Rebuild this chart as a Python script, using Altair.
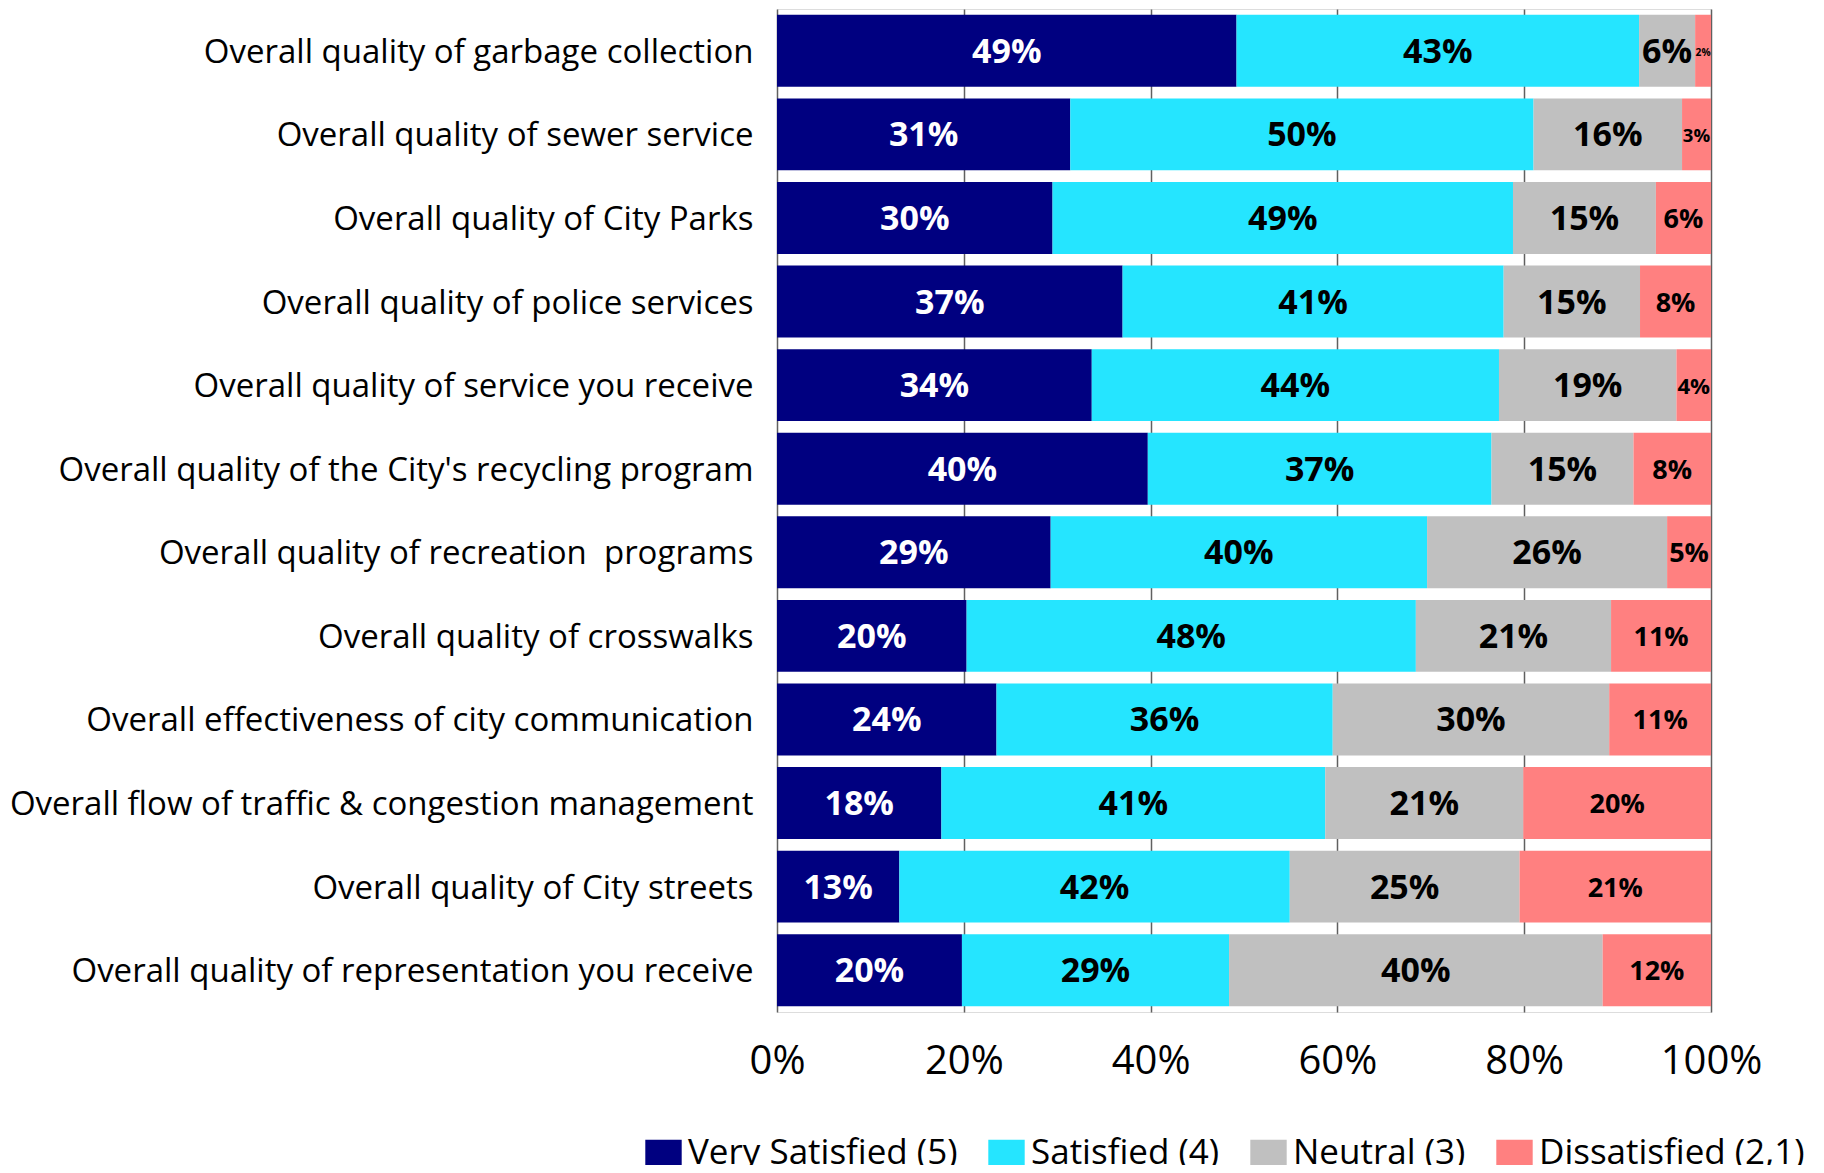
import altair as alt
import pandas as pd

categories = [
    "Overall quality of garbage collection",
    "Overall quality of sewer service",
    "Overall quality of City Parks",
    "Overall quality of police services",
    "Overall quality of service you receive",
    "Overall quality of the City's recycling program",
    "Overall quality of recreation\u00a0 programs",
    "Overall quality of crosswalks",
    "Overall effectiveness of city communication",
    "Overall flow of traffic & congestion management",
    "Overall quality of City streets",
    "Overall quality of representation you receive",
]
series = ["Very Satisfied (5)", "Satisfied (4)", "Neutral (3)", "Dissatisfied (2,1)"]
very_satisfied = [49.2, 31.4, 29.5, 37.0, 33.7, 39.7, 29.3, 20.3, 23.5, 17.6, 13.1, 19.8]
satisfied = [43.1, 49.6, 49.3, 40.8, 43.6, 36.8, 40.3, 48.1, 36.0, 41.1, 41.8, 28.6]
neutral = [6.0, 15.9, 15.3, 14.6, 19.0, 15.2, 25.7, 20.9, 29.6, 21.2, 24.6, 40.0]
dissatisfied = [1.7, 3.1, 5.9, 7.6, 3.7, 8.3, 4.7, 10.7, 10.9, 20.1, 20.5, 11.6]
colors = ["#000080", "#25E5FF", "#C0C0C0", "#FF8080"]
x_ticks = [0, 0.2, 0.4, 0.6, 0.8, 1.0]

rows = []
for si, (s, vals) in enumerate(zip(series, [very_satisfied, satisfied, neutral, dissatisfied])):
    for c, v in zip(categories, vals):
        rows.append({"category": c, "series": s, "value": v / 100.0, "order": si})
df = pd.DataFrame(rows)

FONT = "Open Sans"

base = alt.Chart(df).transform_stack(
    stack="value", groupby=["category"], as_=["x0", "x1"],
    sort=[alt.SortField("order", order="ascending")]
).transform_calculate(
    mid="(datum.x0 + datum.x1) / 2",
    label="format(datum.value, '.0%')",
    fs="datum.series == 'Dissatisfied (2,1)' ? min(27, datum.value * 600) : 34",
)

y_enc = alt.Y("category:N", sort=categories, title=None,
              scale=alt.Scale(paddingInner=0.14, paddingOuter=0.07),
              axis=alt.Axis(labelFont=FONT, labelFontSize=33, labelColor="black",
                            labelPadding=24, ticks=False, domain=False, labelOffset=2,
                            labelLimit=900, grid=False))

bars = base.mark_bar(strokeWidth=0).encode(
    x=alt.X("x0:Q", scale=alt.Scale(domain=[0, 1], nice=False, zero=True), title=None,
            axis=alt.Axis(values=x_ticks, format=".0%", labelFont=FONT, labelFontSize=40,
                          labelColor="black", labelPadding=29, ticks=False, domain=False,
                          labelFlush=False,
                          grid=True, gridColor="#606060", gridWidth=1.5)),
    x2="x1:Q",
    y=y_enc,
    color=alt.Color("series:N", sort=series,
                    scale=alt.Scale(domain=series, range=colors),
                    legend=alt.Legend(title=None, orient="none", direction="horizontal",
                                      legendX=-131, legendY=1126,
                                      labelFont=FONT, labelFontSize=35, labelColor="black",
                                      symbolType="M-1.4,-1H1.4V1H-1.4Z", symbolSize=676,
                                      symbolStrokeWidth=0, symbolOpacity=1,
                                      columnPadding=30, labelOffset=7, labelLimit=600)),
    order=alt.Order("order:Q"),
)

labels = base.mark_text(font=FONT, fontWeight="bold", align="center", baseline="middle", dy=2).encode(
    x=alt.X("mid:Q"),
    y=alt.Y("category:N", sort=categories),
    text="label:N",
    size=alt.Size("fs:Q", scale=None, legend=None),
    color=alt.condition(alt.datum.series == "Very Satisfied (5)", alt.value("white"), alt.value("black")),
)

chart = alt.layer(bars, labels).properties(
    width=934, height=1003,
    autosize=alt.AutoSizeParams(type="none"),
    padding={"left": 769, "top": 1, "right": 105, "bottom": 153},
).configure_view(stroke="black", strokeWidth=4).configure(background="white")

chart.save("out.html", embed_options={"renderer": "svg", "actions": False})
